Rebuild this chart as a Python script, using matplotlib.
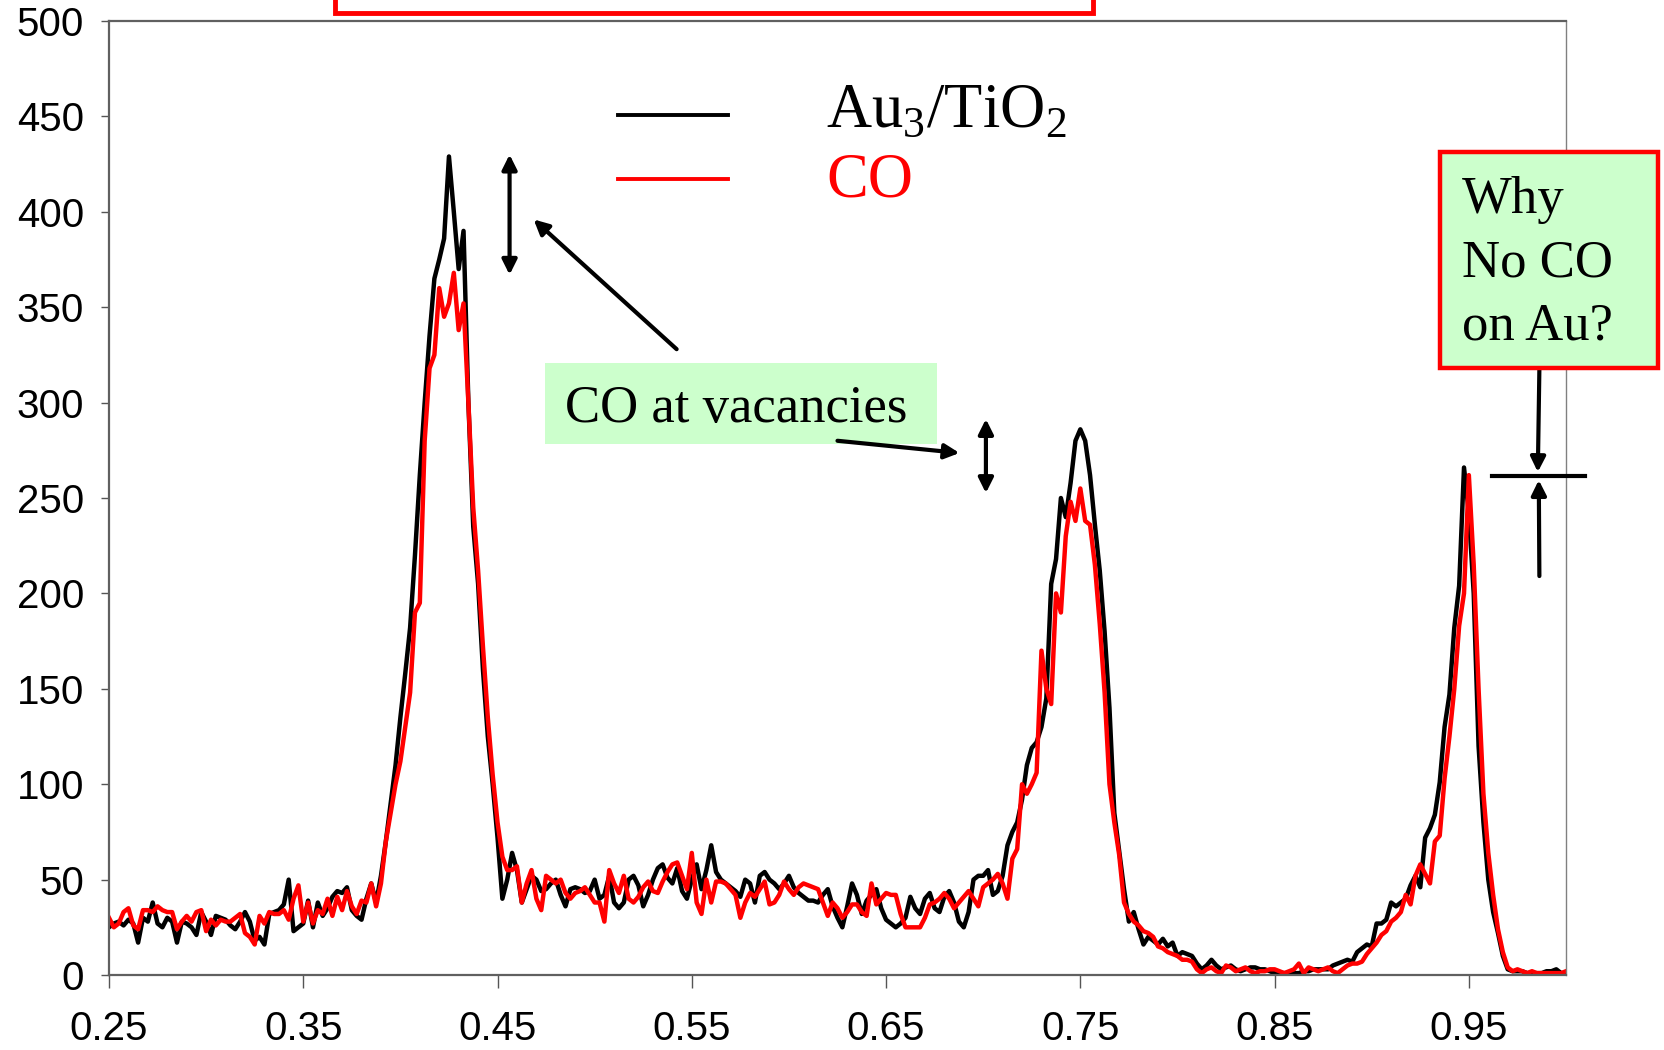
import matplotlib.pyplot as plt
import numpy as np
from matplotlib.patches import Rectangle
from matplotlib.lines import Line2D

plt.rcParams['mathtext.fontset'] = 'custom'
plt.rcParams['mathtext.rm'] = 'Liberation Serif'

# sampling grid of the spectra
x_start, x_stop, n_pts = 0.25, 1.0, 301

au3_tio2 = [
    25, 27, 28, 26, 29, 27, 17, 30, 28, 38,
    27, 25, 30, 28, 17, 28, 27, 25, 21, 33,
    28, 21, 31, 30, 29, 26, 24, 28, 33, 28,
    18, 20, 16, 32, 33, 34, 37, 50, 23, 25,
    27, 39, 25, 38, 31, 35, 41, 44, 43, 46,
    34, 31, 29, 40, 48, 38, 52, 70, 90, 110,
    135, 158, 182, 220, 262, 300, 335, 365, 375, 386,
    429, 400, 370, 390, 300, 235, 205, 160, 125, 100,
    72, 40, 50, 64, 55, 38, 45, 52, 50, 44,
    45, 48, 50, 42, 36, 45, 46, 45, 43, 44,
    50, 40, 42, 52, 38, 35, 38, 50, 52, 47,
    36, 42, 50, 56, 58, 51, 48, 56, 44, 40,
    50, 58, 45, 55, 68, 54, 50, 48, 46, 44,
    41, 50, 48, 38, 52, 54, 50, 48, 45, 48,
    52, 46, 43, 41, 39, 39, 38, 42, 45, 36,
    30, 25, 36, 48, 42, 32, 39, 42, 45, 35,
    29, 27, 25, 27, 30, 41, 35, 32, 40, 43,
    35, 33, 41, 44, 38, 28, 25, 33, 50, 52,
    52, 55, 42, 44, 52, 68, 75, 80, 92, 110,
    119, 122, 130, 145, 205, 218, 250, 240, 258, 280,
    286, 280, 262, 236, 212, 180, 140, 85, 65, 45,
    28, 33, 24, 16, 20, 18, 16, 19, 15, 17,
    10, 12, 11, 10, 6, 3, 5, 8, 5, 3,
    4, 5, 3, 2, 3, 4, 4, 3, 3, 2,
    1, 1, 1, 1, 1, 1, 2, 2, 3, 3,
    3, 3, 5, 6, 7, 8, 7, 12, 14, 16,
    15, 27, 27, 29, 38, 36, 38, 40, 47, 52,
    46, 72, 77, 84, 101, 130, 147, 182, 204, 266,
    242, 200, 120, 80, 50, 33, 22, 10, 3, 2,
    2, 2, 1, 1, 1, 1, 2, 2, 3, 1,
    1,
]

co = [
    30, 25, 27, 33, 35, 26, 24, 34, 34, 33,
    36, 34, 33, 33, 24, 28, 31, 28, 33, 34,
    23, 29, 26, 29, 28, 28, 30, 32, 22, 20,
    16, 31, 27, 33, 32, 32, 34, 29, 40, 47,
    28, 38, 27, 34, 32, 40, 31, 41, 34, 44,
    36, 32, 39, 38, 48, 36, 48, 70, 85, 100,
    112, 130, 148, 190, 195, 280, 318, 325, 360, 345,
    352, 368, 338, 352, 300, 245, 212, 172, 135, 105,
    80, 62, 55, 55, 57, 38, 48, 55, 40, 34,
    52, 50, 48, 50, 43, 40, 43, 44, 46, 42,
    38, 38, 28, 55, 48, 43, 52, 40, 38, 41,
    46, 49, 44, 43, 49, 54, 58, 59, 52, 45,
    64, 38, 32, 50, 38, 49, 49, 48, 45, 42,
    30, 38, 43, 41, 45, 49, 37, 38, 42, 49,
    45, 42, 46, 48, 47, 46, 45, 38, 31, 38,
    35, 30, 33, 37, 37, 33, 31, 48, 37, 40,
    43, 42, 42, 32, 25, 25, 25, 25, 30, 37,
    38, 40, 43, 40, 35, 38, 41, 44, 40, 36,
    46, 48, 50, 53, 48, 40, 61, 66, 100, 95,
    100, 106, 170, 150, 142, 200, 190, 230, 248, 238,
    255, 238, 236, 215, 184, 148, 100, 80, 63, 38,
    32, 28, 26, 23, 22, 20, 15, 14, 12, 11,
    10, 8, 8, 7, 3, 1, 3, 4, 2, 1,
    5, 4, 2, 3, 4, 2, 1, 2, 2, 3,
    3, 2, 1, 2, 3, 6, 1, 4, 3, 2,
    3, 4, 2, 1, 3, 5, 6, 6, 7, 11,
    14, 17, 21, 23, 28, 30, 33, 42, 37, 52,
    58, 53, 48, 70, 73, 103, 125, 150, 183, 200,
    262, 215, 150, 95, 64, 42, 24, 12, 4, 2,
    3, 2, 1, 2, 1, 1, 1, 1, 1, 1,
    2,
]

x_ticks = [0.25, 0.35, 0.45, 0.55, 0.65, 0.75, 0.85, 0.95]
y_ticks = [0, 50, 100, 150, 200, 250, 300, 350, 400, 450, 500]

x = np.linspace(x_start, x_stop, n_pts)

fig = plt.figure(figsize=(16.64, 10.5), dpi=100)
ax = fig.add_axes([0.0655, 0.0714, 0.8756, 0.9086])

ax.plot(x, au3_tio2, color='black', lw=3.2, zorder=2)
ax.plot(x, co, color='red', lw=3.2, zorder=2.1)

ax.set_xlim(0.25, 1.0)
ax.set_ylim(0, 500)
ax.set_xticks(x_ticks, [f'{t:.2f}' for t in x_ticks])
ax.set_yticks(y_ticks)
for lab in ax.get_xticklabels() + ax.get_yticklabels():
    lab.set_fontfamily('Liberation Sans')
    lab.set_fontsize(29)
ax.tick_params(axis='x', direction='out', length=9, width=1, color='#555555', pad=16)
ax.tick_params(axis='y', direction='out', length=6, width=1, color='#555555', pad=12)
for side in ['left', 'bottom', 'top']:
    ax.spines[side].set_color('#606060')
    ax.spines[side].set_linewidth(1.6)
ax.spines['right'].set_color('#808080')
ax.spines['right'].set_linewidth(1.0)

# red title frame cut off at the top
fig.add_artist(Rectangle((0.2013, 0.9876), 0.4556, 0.06, transform=fig.transFigure,
                         facecolor='white', edgecolor='red', lw=3.5, clip_on=False))

# legend
fig.add_artist(Line2D([0.3714, 0.4375], [0.8905, 0.8905], color='black', lw=2.8,
                      transform=fig.transFigure))
fig.add_artist(Line2D([0.3714, 0.4375], [0.8295, 0.8295], color='red', lw=2.8,
                      transform=fig.transFigure))
fig.text(0.4964, 0.879, r'Au$_\mathrm{3}$/TiO$_\mathrm{2}$', fontsize=45,
         family='Liberation Serif', color='black', va='baseline')
fig.text(0.4964, 0.8124, 'CO', fontsize=45, family='Liberation Serif',
         color='red', va='baseline')

# "CO at vacancies" label, under the arrows
ax.add_patch(Rectangle((0.3275, 0.5771), 0.2356, 0.0771, transform=fig.transFigure,
                       facecolor='#ccffcc', edgecolor='none', zorder=1, clip_on=False))
ax.text(0.3395, 0.598, 'CO at vacancies', fontsize=38, family='Liberation Serif',
        va='baseline', transform=fig.transFigure, zorder=1.5)

# "Why No CO on Au?" box
fig.add_artist(Rectangle((0.8654, 0.6495), 0.131, 0.2057, transform=fig.transFigure,
                         facecolor='#ccffcc', edgecolor='red', lw=3.2))
for line, yb in zip(['Why', 'No CO', 'on Au?'], [0.7971, 0.7362, 0.6762]):
    fig.text(0.8786, yb, line, fontsize=38, family='Liberation Serif', va='baseline')

arrow = dict(arrowstyle='-|>', color='black', lw=3, mutation_scale=22, shrinkA=0, shrinkB=0)
darrow = dict(arrowstyle='<|-|>', color='black', lw=3, mutation_scale=22, shrinkA=0, shrinkB=0)

ax.annotate('', xy=(0.4562, 430), xytext=(0.4562, 367), arrowprops=darrow, zorder=4)
ax.annotate('', xy=(0.4686, 396), xytext=(0.5422, 328), arrowprops=arrow, zorder=4)
ax.annotate('', xy=(0.6878, 273.6), xytext=(0.625, 280), arrowprops=arrow, zorder=4)
ax.annotate('', xy=(0.7014, 291.4), xytext=(0.7014, 252.6), arrowprops=darrow, zorder=4)
ax.annotate('', xy=(0.9855, 263.6), xytext=(0.9863, 317.6), arrowprops=arrow,
            annotation_clip=False, zorder=4)
ax.annotate('', xy=(0.986, 259.4), xytext=(0.9863, 209.1), arrowprops=arrow,
            annotation_clip=False, zorder=4)
ax.plot([0.9618, 1.0097], [261.5, 261.5], color='black', lw=3, clip_on=False, zorder=4)

fig.savefig('out.png', dpi=100)
